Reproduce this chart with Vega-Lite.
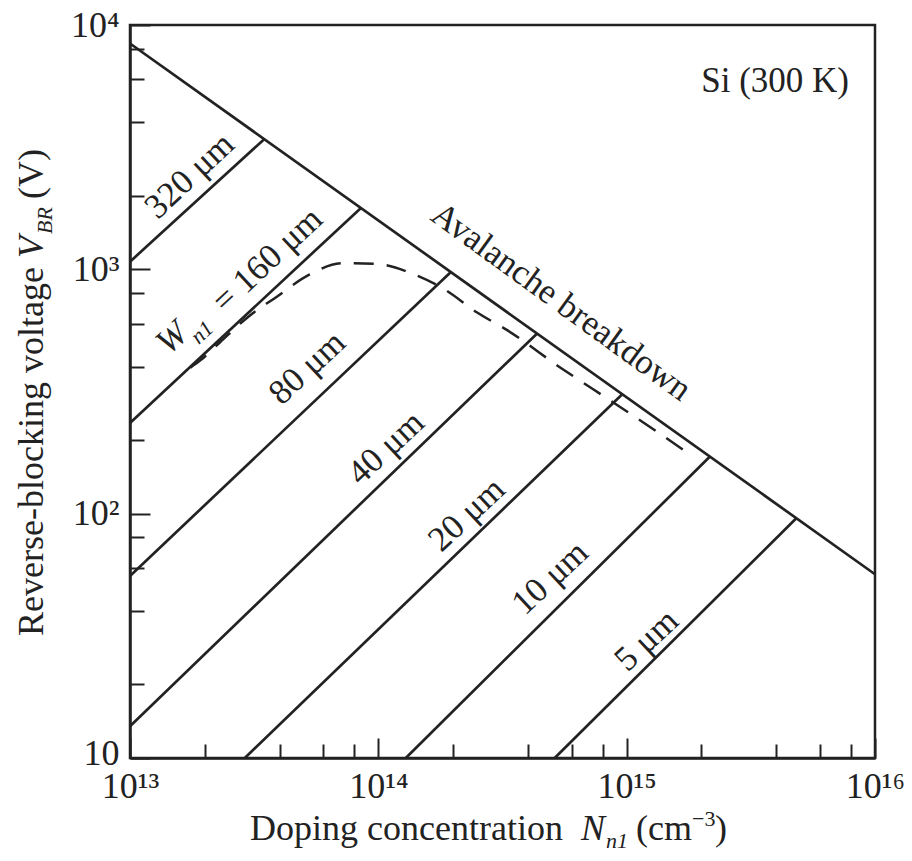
{
  "$schema": "https://vega.github.io/schema/vega-lite/v6.json",
  "width": 745,
  "height": 733,
  "autosize": {"type": "none"},
  "padding": {"left": 130, "top": 25, "right": 37, "bottom": 103},
  "background": "white",
  "config": {
    "view": {"stroke": "#222", "strokeWidth": 2.5},
    "font": "Liberation Serif"
  },
  "encoding": {
    "x": {
      "field": "N", "type": "quantitative",
      "scale": {"type": "log", "domain": [1e13, 1e16], "nice": false},
      "axis": {
        "title": null,
        "values": [1e13, 2e13, 4e13, 6e13, 8e13, 1e14, 2e14, 4e14, 6e14, 8e14, 1e15, 2e15, 4e15, 6e15, 8e15, 1e16],
        "labelExpr": "abs(log(datum.value)/LN10 - round(log(datum.value)/LN10)) < 0.001 ? '10' + ['¹³','¹⁴','¹⁵','¹⁶'][round(log(datum.value)/LN10) - 13] : ''",
        "labelFont": "Liberation Serif", "labelFontSize": 36, "labelColor": "#222",
        "labelOverlap": false, "labelFlush": false, "labelPadding": 31,
        "grid": false, "domainColor": "#222", "domainWidth": 2.5,
        "tickColor": "#222", "tickWidth": 2,
        "tickSize": {"condition": {"test": "abs(log(datum.value)/LN10 - round(log(datum.value)/LN10)) < 0.001", "value": -20}, "value": -14}
      }
    },
    "y": {
      "field": "V", "type": "quantitative",
      "scale": {"type": "log", "domain": [10, 10000], "nice": false},
      "axis": {
        "title": null,
        "values": [10, 20, 40, 60, 80, 100, 200, 400, 600, 800, 1000, 2000, 4000, 6000, 8000, 10000],
        "labelExpr": "abs(log(datum.value)/LN10 - round(log(datum.value)/LN10)) < 0.001 ? ['10','10²','10³','10⁴'][round(log(datum.value)/LN10) - 1] : ''",
        "labelFont": "Liberation Serif", "labelFontSize": 36, "labelColor": "#222",
        "labelOverlap": false, "labelFlush": false, "labelPadding": 31,
        "labelOffset": {"condition": {"test": "datum.value < 15", "value": -5}, "value": 0},
        "grid": false, "domainColor": "#222", "domainWidth": 2.5,
        "tickColor": "#222", "tickWidth": 2,
        "tickSize": {"condition": {"test": "abs(log(datum.value)/LN10 - round(log(datum.value)/LN10)) < 0.001", "value": -20}, "value": -14}
      }
    }
  },
  "layer": [
    {
      "data": {"values": [
        {"series": "avalanche", "N": 1e13, "V": 8400},
        {"series": "avalanche", "N": 1e16, "V": 56.5},
        {"series": "320", "N": 1e13, "V": 1075}, {"series": "320", "N": 3.47e13, "V": 3410},
        {"series": "160", "N": 1e13, "V": 235}, {"series": "160", "N": 8.49e13, "V": 1780},
        {"series": "80", "N": 1e13, "V": 55.6}, {"series": "80", "N": 1.96e14, "V": 975},
        {"series": "40", "N": 1e13, "V": 13.5}, {"series": "40", "N": 4.35e14, "V": 545},
        {"series": "20", "N": 2.9e13, "V": 10}, {"series": "20", "N": 9.6e14, "V": 308},
        {"series": "10", "N": 1.29e14, "V": 10}, {"series": "10", "N": 2.16e15, "V": 171},
        {"series": "5", "N": 5.13e14, "V": 10}, {"series": "5", "N": 4.82e15, "V": 95.7}
      ]},
      "mark": {"type": "line", "color": "#222", "strokeWidth": 2.7},
      "encoding": {"detail": {"field": "series"}}
    },
    {
      "data": {"values": [
        {"N": 1.75e13, "V": 396}, {"N": 1.92e13, "V": 424}, {"N": 2.30e13, "V": 502},
        {"N": 2.98e13, "V": 637}, {"N": 3.89e13, "V": 771}, {"N": 5.27e13, "V": 951},
        {"N": 7.14e13, "V": 1059}, {"N": 9.79e13, "V": 1052}, {"N": 1.37e14, "V": 960},
        {"N": 1.88e14, "V": 819}, {"N": 2.49e14, "V": 667}, {"N": 3.29e14, "V": 565},
        {"N": 5.55e14, "V": 389}, {"N": 7.33e14, "V": 323}, {"N": 1.33e15, "V": 216},
        {"N": 1.78e15, "V": 176}
      ]},
      "mark": {"type": "line", "color": "#222", "strokeWidth": 2.5, "strokeDash": [20, 13], "interpolate": "monotone"}
    },
    {
      "data": {"values": [
        {"label": "320 μm", "N": 1.734e13, "V": 2421},
        {"label": "80 μm", "N": 5.16e13, "V": 396},
        {"label": "40 μm", "N": 1.072e14, "V": 186},
        {"label": "20 μm", "N": 2.265e14, "V": 99.3},
        {"label": "10 μm", "N": 4.91e14, "V": 54.7},
        {"label": "5 μm", "N": 1.202e15, "V": 30.4}
      ]},
      "mark": {"type": "text", "angle": 317, "fontSize": 35, "font": "Liberation Serif", "color": "#222", "align": "center", "baseline": "middle"},
      "encoding": {"text": {"field": "label"}}
    },
    {
      "data": {"values": [{"label": "W", "N": 1.476e13, "V": 525}]},
      "mark": {"type": "text", "angle": 317, "fontSize": 35, "fontStyle": "italic", "font": "Liberation Serif", "color": "#222", "align": "center", "baseline": "middle"},
      "encoding": {"text": {"field": "label"}}
    },
    {
      "data": {"values": [{"label": "n1", "N": 1.948e13, "V": 552}]},
      "mark": {"type": "text", "angle": 317, "fontSize": 22, "fontStyle": "italic", "font": "Liberation Serif", "color": "#222", "align": "center", "baseline": "middle"},
      "encoding": {"text": {"field": "label"}}
    },
    {
      "data": {"values": [{"label": "= 160 μm", "N": 3.57e13, "V": 1094}]},
      "mark": {"type": "text", "angle": 317, "fontSize": 35, "font": "Liberation Serif", "color": "#222", "align": "center", "baseline": "middle"},
      "encoding": {"text": {"field": "label"}}
    },
    {
      "data": {"values": [{"label": "Avalanche breakdown", "N": 5.46e14, "V": 738}]},
      "mark": {"type": "text", "angle": 36, "fontSize": 35, "font": "Liberation Serif", "color": "#222", "align": "center", "baseline": "middle"},
      "encoding": {"text": {"field": "label"}}
    },
    {
      "data": {"values": [{"label": "Si (300 K)", "N": 3.96e15, "V": 5916}]},
      "mark": {"type": "text", "fontSize": 35, "font": "Liberation Serif", "color": "#222", "align": "center", "baseline": "middle"},
      "encoding": {"text": {"field": "label"}}
    },
    {
      "data": {"values": [{"label": "Reverse-blocking voltage", "N": 4.465e12, "V": 1022}]},
      "mark": {"type": "text", "angle": 270, "fontSize": 36, "font": "Liberation Serif", "color": "#222", "align": "right", "baseline": "alphabetic"},
      "encoding": {"text": {"field": "label"}}
    },
    {
      "data": {"values": [{"label": "V", "N": 4.465e12, "V": 1113}]},
      "mark": {"type": "text", "angle": 270, "fontSize": 36, "fontStyle": "italic", "font": "Liberation Serif", "color": "#222", "align": "left", "baseline": "alphabetic"},
      "encoding": {"text": {"field": "label"}}
    },
    {
      "data": {"values": [{"label": "BR", "N": 4.852e12, "V": 1395}]},
      "mark": {"type": "text", "angle": 270, "fontSize": 22, "fontStyle": "italic", "font": "Liberation Serif", "color": "#222", "align": "left", "baseline": "alphabetic"},
      "encoding": {"text": {"field": "label"}}
    },
    {
      "data": {"values": [{"label": "(V)", "N": 4.465e12, "V": 1941}]},
      "mark": {"type": "text", "angle": 270, "fontSize": 36, "font": "Liberation Serif", "color": "#222", "align": "left", "baseline": "alphabetic"},
      "encoding": {"text": {"field": "label"}}
    },
    {
      "data": {"values": [
        {"label": "Doping concentration", "N": 3.043e13, "V": 4.616},
        {"label": "(cm", "N": 1.0904e15, "V": 4.616},
        {"label": ")", "N": 2.268e15, "V": 4.616}
      ]},
      "mark": {"type": "text", "fontSize": 36, "font": "Liberation Serif", "color": "#222", "align": "left", "baseline": "alphabetic"},
      "encoding": {"text": {"field": "label"}}
    },
    {
      "data": {"values": [{"label": "N", "N": 6.549e14, "V": 4.616}]},
      "mark": {"type": "text", "fontSize": 36, "fontStyle": "italic", "font": "Liberation Serif", "color": "#222", "align": "left", "baseline": "alphabetic"},
      "encoding": {"text": {"field": "label"}}
    },
    {
      "data": {"values": [{"label": "n1", "N": 8.26e14, "V": 4.28}]},
      "mark": {"type": "text", "fontSize": 22, "fontStyle": "italic", "font": "Liberation Serif", "color": "#222", "align": "left", "baseline": "alphabetic"},
      "encoding": {"text": {"field": "label"}}
    },
    {
      "data": {"values": [{"label": "−3", "N": 1.833e15, "V": 5.27}]},
      "mark": {"type": "text", "fontSize": 22, "font": "Liberation Serif", "color": "#222", "align": "left", "baseline": "alphabetic"},
      "encoding": {"text": {"field": "label"}}
    }
  ]
}
